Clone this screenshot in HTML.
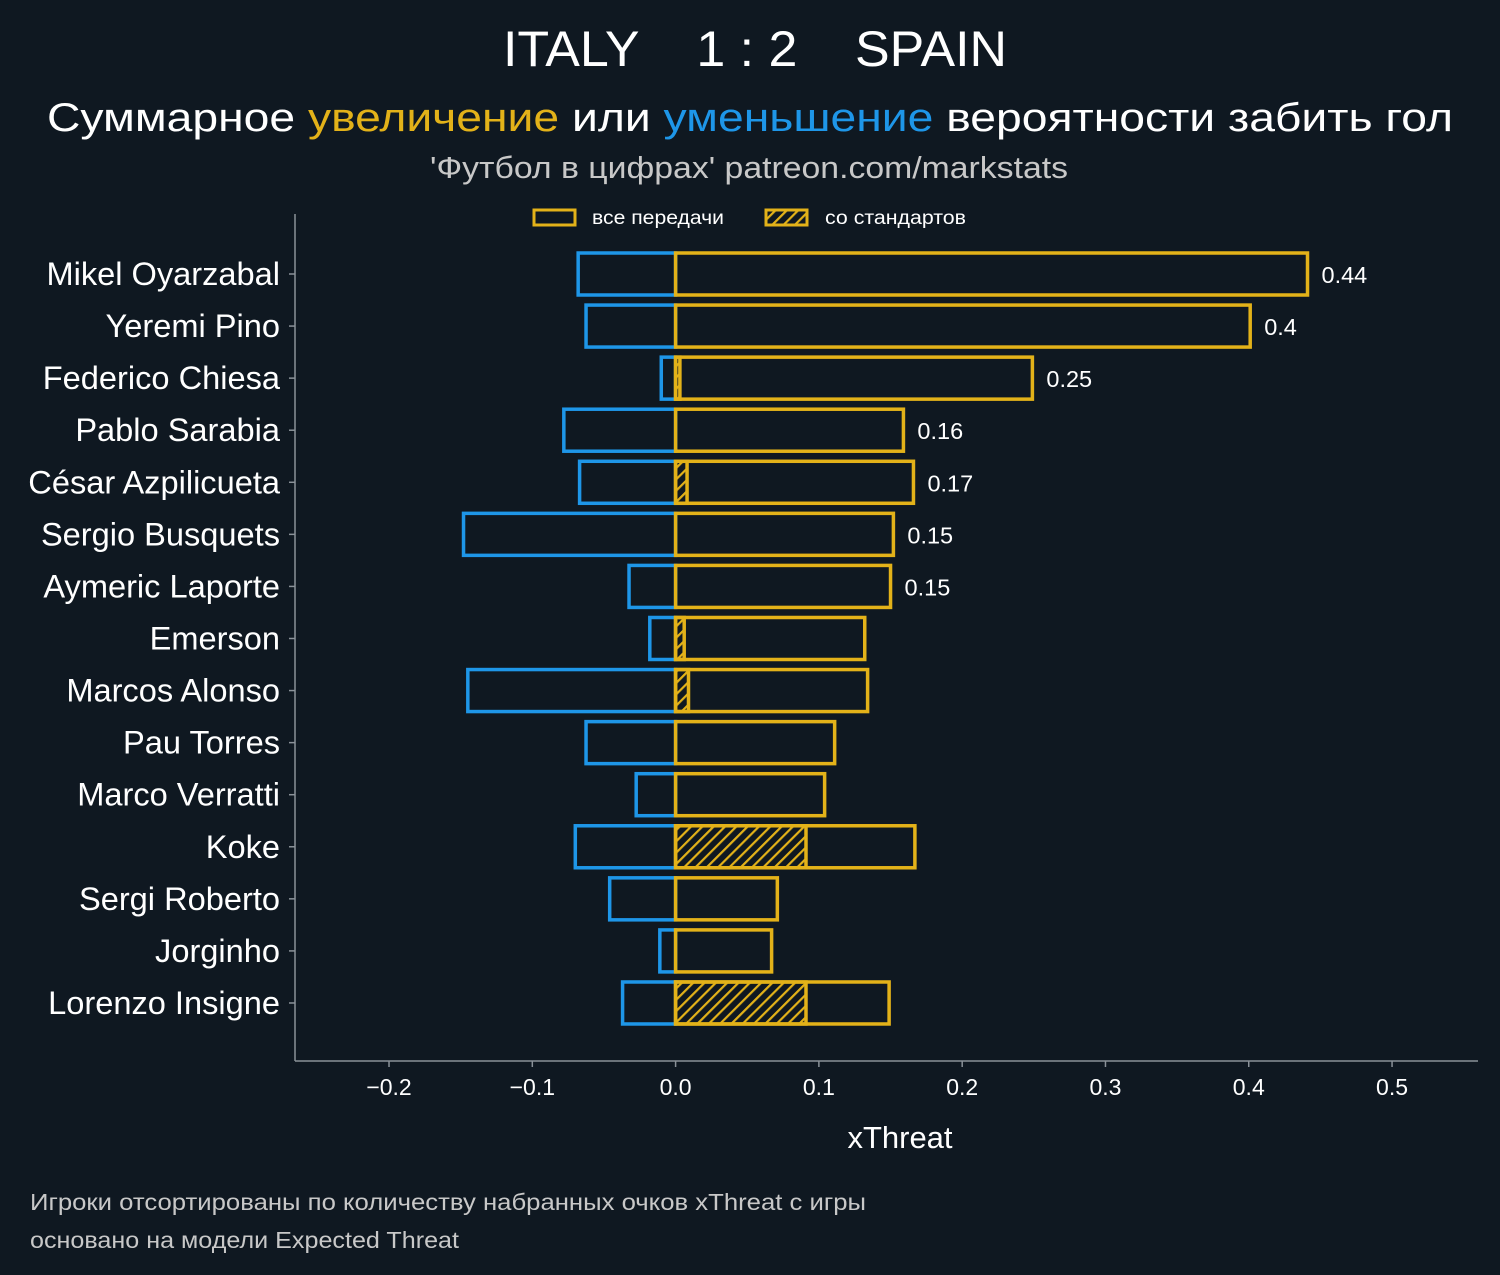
<!DOCTYPE html>
<html><head><meta charset="utf-8"><style>
html,body{margin:0;padding:0;background:#0f1821;}
svg{display:block;font-family:"Liberation Sans","DejaVu Sans",sans-serif;}
</style></head><body>
<svg id="chart" width="1500" height="1275" viewBox="0 0 1500 1275">
<defs>
<pattern id="hatch" patternUnits="userSpaceOnUse" width="8" height="8" patternTransform="rotate(45)">
<rect width="8" height="8" fill="#0f1821"/>
<rect x="0" y="0" width="2.2" height="8" fill="#e3b219"/>
</pattern>
</defs>
<rect width="1500" height="1275" fill="#0f1821"/>
<text x="503" y="66" textLength="504" lengthAdjust="spacingAndGlyphs" fill="#fff" font-size="50" xml:space="preserve">ITALY    1 : 2    SPAIN</text>
<text x="47" y="131" textLength="1406" lengthAdjust="spacingAndGlyphs" fill="#fff" font-size="40">Суммарное <tspan fill="#e3b219">увеличение</tspan> или <tspan fill="#1e96e8">уменьшение</tspan> вероятности забить гол</text>
<text x="430" y="178" textLength="638" lengthAdjust="spacingAndGlyphs" fill="#c8c8c8" font-size="31">'Футбол в цифрах' patreon.com/markstats</text>
<g>
<rect x="534" y="210" width="41" height="15" fill="none" stroke="#e3b219" stroke-width="3"/>
<text x="592" y="224" textLength="132" lengthAdjust="spacingAndGlyphs" fill="#fff" font-size="19">все передачи</text>
<rect x="766" y="210" width="41" height="15" fill="url(#hatch)" stroke="#e3b219" stroke-width="3"/>
<text x="825" y="224" textLength="141" lengthAdjust="spacingAndGlyphs" fill="#fff" font-size="19">со стандартов</text>
</g>
<g id="bars"></g>
<line x1="295" y1="214" x2="295" y2="1061" stroke="#8a9198" stroke-width="1.5"/>
<line x1="295" y1="1061" x2="1478" y2="1061" stroke="#8a9198" stroke-width="1.5"/>
<g id="xticks"></g>
<text x="900" y="1148" text-anchor="middle" fill="#fff" font-size="31">xThreat</text>
<text x="30" y="1210" textLength="836" lengthAdjust="spacingAndGlyphs" fill="#c8c8c8" font-size="23">Игроки отсортированы по количеству набранных очков xThreat с игры</text>
<text x="30" y="1248" textLength="429" lengthAdjust="spacingAndGlyphs" fill="#c8c8c8" font-size="23">основано на модели Expected Threat</text>
</svg>
<script>
const players = ["Mikel Oyarzabal","Yeremi Pino","Federico Chiesa","Pablo Sarabia","César Azpilicueta","Sergio Busquets","Aymeric Laporte","Emerson","Marcos Alonso","Pau Torres","Marco Verratti","Koke","Sergi Roberto","Jorginho","Lorenzo Insigne"];
const positive = [0.441,0.401,0.249,0.159,0.166,0.152,0.150,0.132,0.134,0.111,0.104,0.167,0.071,0.067,0.149];
const negative = [-0.068,-0.0625,-0.010,-0.078,-0.067,-0.148,-0.0325,-0.018,-0.145,-0.0625,-0.0275,-0.070,-0.046,-0.011,-0.037];
const setPieces = [0,0,0.003,0,0.008,0,0,0.006,0.009,0,0,0.091,0,0,0.091];
const valueLabels = ["0.44","0.4","0.25","0.16","0.17","0.15","0.15","","","","","","","",""];
const xTicks = [-0.2,-0.1,0.0,0.1,0.2,0.3,0.4,0.5];
const xTickLabels = ["−0.2","−0.1","0.0","0.1","0.2","0.3","0.4","0.5"];

const NS="http://www.w3.org/2000/svg";
const xScale = v => 675.6 + v*1432.9;
const yScale = i => 274 + i*52.07;
const BH = 42;
const bars = document.getElementById('bars');
function mk(tag, attrs, parent){const e=document.createElementNS(NS,tag);for(const k in attrs)e.setAttribute(k,attrs[k]);parent.appendChild(e);return e;}
players.forEach((p,i)=>{
  const y=yScale(i);
  const g=mk('g',{},bars);
  
  
  const neg=mk('rect',{x:xScale(negative[i]),y:y-BH/2,width:xScale(0)-xScale(negative[i]),height:BH,fill:'none',stroke:'#1e96e8','stroke-width':3.5},g);
  
  
  if(setPieces[i]>0){
    const sp=mk('rect',{x:xScale(0),y:y-BH/2,width:xScale(setPieces[i])-xScale(0),height:BH,fill:'url(#hatch)',stroke:'#e3b219','stroke-width':3.5},g);
    
    
  }
  const pos=mk('rect',{x:xScale(0),y:y-BH/2,width:xScale(positive[i])-xScale(0),height:BH,fill:'none',stroke:'#e3b219','stroke-width':3.5},g);
  
  
  const lab=mk('text',{x:280,y:y+11,'text-anchor':'end',fill:'#fff','font-size':32.6},g);
  lab.textContent=p;
  
  
  const tk=mk('line',{x1:289,x2:295,y1:y,y2:y,stroke:'#8a9198','stroke-width':1.5},g);
  
  
  if(valueLabels[i]){
    const vl=mk('text',{x:xScale(positive[i])+14,y:y+9,fill:'#fff','font-size':23.5},g);
    vl.textContent=valueLabels[i];
    
    
  }
});
const xt=document.getElementById('xticks');
xTicks.forEach((t,i)=>{
  const x=xScale(t);
  const l=mk('line',{x1:x,x2:x,y1:1061,y2:1067,stroke:'#8a9198','stroke-width':1.5},xt);
  
  
  const tx=mk('text',{x:x,y:1095,'text-anchor':'middle',fill:'#fff','font-size':23},xt);
  tx.textContent=xTickLabels[i];
  
  
});
</script>
</body></html>
